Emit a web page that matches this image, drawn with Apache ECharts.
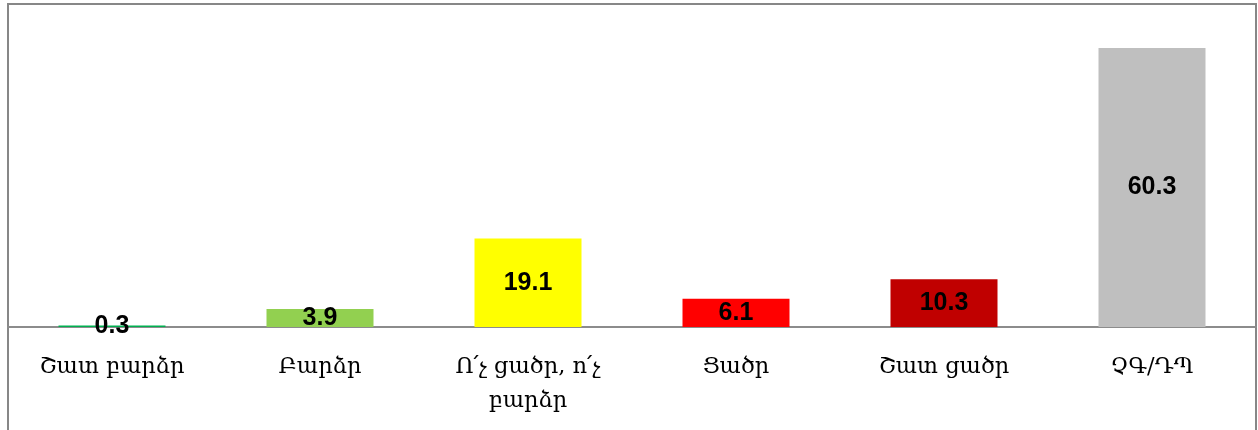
<!DOCTYPE html>
<html lang="hy">
<head>
<meta charset="UTF-8">
<script src="https://cdn.jsdelivr.net/npm/echarts@6/dist/echarts.min.js"></script>
<title>chart</title>
<style>
html, body { margin: 0; padding: 0; background: #fff; }
#chart { width: 1258px; height: 430px; }
</style>
</head>
<body>
<div id="chart"></div>
<script>
// data
var categories = ['Շատ բարձր', 'Բարձր', 'Ո՛չ ցածր, ո՛չ\nբարձր', 'Ցածր', 'Շատ ցածր', 'ՉԳ/ԴՊ'];
var values = [0.3, 3.9, 19.1, 6.1, 10.3, 60.3];
var barColors = ['#00B050', '#92D050', '#FFFF00', '#FF0000', '#C00000', '#BFBFBF'];

var chart = echarts.init(document.getElementById('chart'));
var option = {
    animation: false,
    grid: { left: 8, right: 2, top: 3, bottom: 103 },
    graphic: [{
        type: 'rect',
        shape: { x: 8, y: 4, width: 1248, height: 440 },
        style: { fill: 'none', stroke: '#878787', lineWidth: 2 },
        z: 0
    }],
    xAxis: {
        type: 'category',
        data: categories,
        axisLine: { lineStyle: { color: '#8c8c8c', width: 2 } },
        axisTick: { show: false },
        axisLabel: {
            color: '#000',
            fontFamily: 'DejaVu Serif',
            fontSize: 22.5,
            margin: 23,
            lineHeight: 34
        }
    },
    yAxis: {
        type: 'value',
        min: 0,
        max: 70,
        show: false,
        splitLine: { show: false }
    },
    series: [{
        type: 'bar',
        barWidth: 107,
        data: values.map(function (v, i) {
            return { value: v, itemStyle: { color: barColors[i] } };
        }),
        label: {
            show: true,
            position: 'inside',
            color: '#000',
            fontFamily: 'Liberation Sans',
            fontWeight: 'bold',
            fontSize: 25
        }
    }]
};
chart.setOption(option);
</script>
</body>
</html>
